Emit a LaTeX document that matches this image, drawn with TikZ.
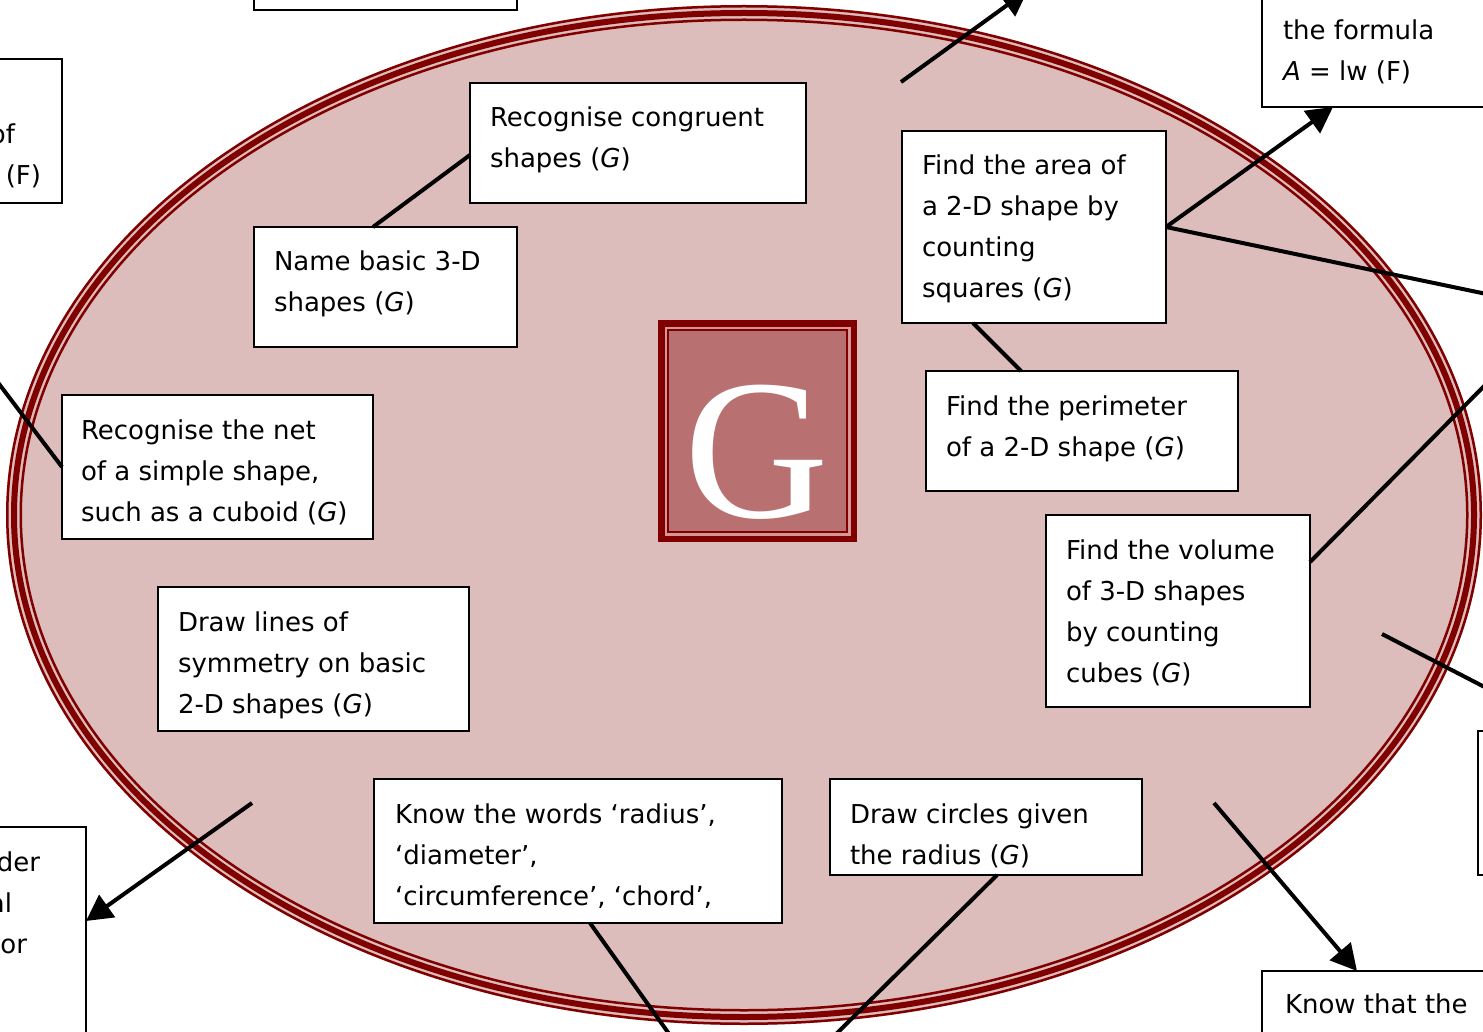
\documentclass[tikz,border=0pt]{standalone}
\usepackage{fontspec}
\setmainfont{DejaVu Sans}
\newfontfamily\serifG{Liberation Serif}
\usetikzlibrary{arrows.meta,calc}

\definecolor{ovalfill}{RGB}{221,188,188}
\definecolor{ovaldark}{RGB}{128,0,0}
\definecolor{gfill}{RGB}{184,112,112}
\definecolor{gline}{RGB}{212,150,150}

% lines of a card, first baseline is the reference point
\newcommand{\boxlines}[1]{\vtop{\baselineskip=41pt\lineskiplimit=-100pt\lineskip=0pt\halign{##\hfil\cr#1\crcr}}}

\begin{document}
\begin{tikzpicture}[x=1pt,y=-1pt,
  card/.style={draw=black, line width=1.8pt, fill=white, anchor=north west,
               inner sep=0pt, outer sep=0pt},
  txt/.style={anchor=base west, inner sep=0pt, outer sep=0pt,
              font=\fontsize{26}{41}\selectfont},
  link/.style={line width=4pt, draw=black},
  arrowlink/.style={link, -{Triangle[length=26pt,width=27pt]}}]

\useasboundingbox (0,0) rectangle (1483,1032);
\clip (0,0) rectangle (1483,1032);
\fill[white] (0,0) rectangle (1483,1032);

% the oval with its triple rim
\fill[ovalfill] (744,515) ellipse [x radius=738, y radius=510];
\draw[ovaldark, line width=2.5pt] (744,515) ellipse [x radius=736.75, y radius=508.75];
\draw[ovaldark, line width=6pt] (744,515) ellipse [x radius=730, y radius=502];
\draw[ovaldark, line width=2.5pt] (744,515) ellipse [x radius=723.25, y radius=495.25];

% the G mark
\node[minimum width=199pt, minimum height=222pt, fill=ovaldark,
      inner sep=0pt, outer sep=0pt] (gmark) at (757.5,431) {};
\fill[gline] ($(gmark.north west)+(6.5,6.5)$) rectangle ($(gmark.south east)+(-6.5,-6.5)$);
\fill[ovaldark] ($(gmark.north west)+(9,9)$) rectangle ($(gmark.south east)+(-9,-9)$);
\fill[gfill] ($(gmark.north west)+(11,11)$) rectangle ($(gmark.south east)+(-11,-11)$);
\node[text=white, font=\serifG\fontsize{200}{200}\selectfont, anchor=base,
      inner sep=0pt] (gletter) at (757,517) {G};

% cards
\node[card, minimum width=263pt, minimum height=150pt] (topbox) at (254,-140) {};
\node[card, minimum width=312pt, minimum height=144pt] (leftbox) at (-250,59) {};
\node[card, minimum width=336pt, minimum height=120pt] (congr) at (470,83) {};
\node[card, minimum width=263pt, minimum height=120pt] (name3d) at (254,227) {};
\node[card, minimum width=264pt, minimum height=192pt] (area) at (902,131) {};
\node[card, minimum width=300pt, minimum height=207pt] (formula) at (1262,-100) {};
\node[card, minimum width=312pt, minimum height=120pt] (perim) at (926,371) {};
\node[card, minimum width=311pt, minimum height=144pt] (net) at (62,395) {};
\node[card, minimum width=311pt, minimum height=144pt] (sym) at (158,587) {};
\node[card, minimum width=264pt, minimum height=192pt] (vol) at (1046,515) {};
\node[card, minimum width=200pt, minimum height=144pt] (rside) at (1478,731) {};
\node[card, minimum width=336pt, minimum height=300pt] (lowleft) at (-250,827) {};
\node[card, minimum width=408pt, minimum height=144pt] (words) at (374,779) {};
\node[card, minimum width=312pt, minimum height=96pt] (circ) at (830,779) {};
\node[card, minimum width=300pt, minimum height=200pt] (lowright) at (1262,971) {};

% card texts
\node[txt, anchor=base east] (lefta) at (15,144) {of};
\node[txt, anchor=base east] (leftb) at (41,185) {(F)};
\node[txt] (congrt) at ($(congr.north west)+(20,44)$) {\boxlines{Recognise congruent\cr shapes (\textit{G})}};
\node[txt] (name3dt) at ($(name3d.north west)+(20,44)$) {\boxlines{Name basic 3-D\cr shapes (\textit{G})}};
\node[txt] (areat) at ($(area.north west)+(20,44)$) {\boxlines{Find the area of\cr a 2-D shape by\cr counting\cr squares (\textit{G})}};
\node[txt] (formulat) at (1283,40) {\boxlines{the formula\cr \textit{A} = lw (F)}};
\node[txt] (perimt) at ($(perim.north west)+(20,44)$) {\boxlines{Find the perimeter\cr of a 2-D shape (\textit{G})}};
\node[txt] (nett) at ($(net.north west)+(19,44)$) {\boxlines{Recognise the net\cr of a simple shape,\cr such as a cuboid (\textit{G})}};
\node[txt] (symt) at ($(sym.north west)+(20,44)$) {\boxlines{Draw lines of\cr symmetry on basic\cr 2-D shapes (\textit{G})}};
\node[txt] (volt) at ($(vol.north west)+(20,44)$) {\boxlines{Find the volume\cr of 3-D shapes\cr by counting\cr cubes (\textit{G})}};
\node[txt, anchor=base east] (lowlefta) at (40,871) {der};
\node[txt, anchor=base east] (lowleftb) at (12,912) {al};
\node[txt, anchor=base east] (lowleftc) at (27,953) {or};
\node[txt] (wordst) at ($(words.north west)+(21,44)$) {\boxlines{Know the words ‘radius’,\cr ‘diameter’,\cr ‘circumference’, ‘chord’,}};
\node[txt] (circt) at ($(circ.north west)+(20,44)$) {\boxlines{Draw circles given\cr the radius (\textit{G})}};
\node[txt] (lowrightt) at ($(lowright.north west)+(23,42)$) {Know that the};

% free ends of connectors
\coordinate (topfrom) at (901,82);
\coordinate (topto) at (1028,-10);
\coordinate (areaout) at (1520,301);
\coordinate (netout) at (-10,372);
\coordinate (volout) at (1500,370);
\coordinate (rfrom) at (1382,634);
\coordinate (rout) at (1500,695);
\coordinate (llfrom) at (252,803);
\coordinate (lrfrom) at (1214,803);
\coordinate (wordsout) at (677,1045);
\coordinate (circout) at (825,1045);

% connectors
\draw[arrowlink] (topfrom) -- (topto);
\draw[arrowlink] (area.east) -- ($(formula.south west)+(71,0)$);
\draw[link] (area.east) -- (areaout);
\draw[link] ($(congr.north west)+(0,72)$) -- ($(name3d.north west)+(119,0)$);
\draw[link] ($(area.south west)+(71,0)$) -- ($(perim.north west)+(95,0)$);
\draw[link] (net.west) -- (netout);
\draw[link] ($(vol.north east)+(0,47)$) -- (volout);
\draw[link] (rfrom) -- (rout);
\draw[arrowlink] (llfrom) -- ($(lowleft.north east)+(0,94)$);
\draw[arrowlink] (lrfrom) -- ($(lowright.north west)+(95,0)$);
\draw[link] ($(words.south west)+(216,0)$) -- (wordsout);
\draw[link] ($(circ.south west)+(167,0)$) -- (circout);
\end{tikzpicture}
\end{document}
